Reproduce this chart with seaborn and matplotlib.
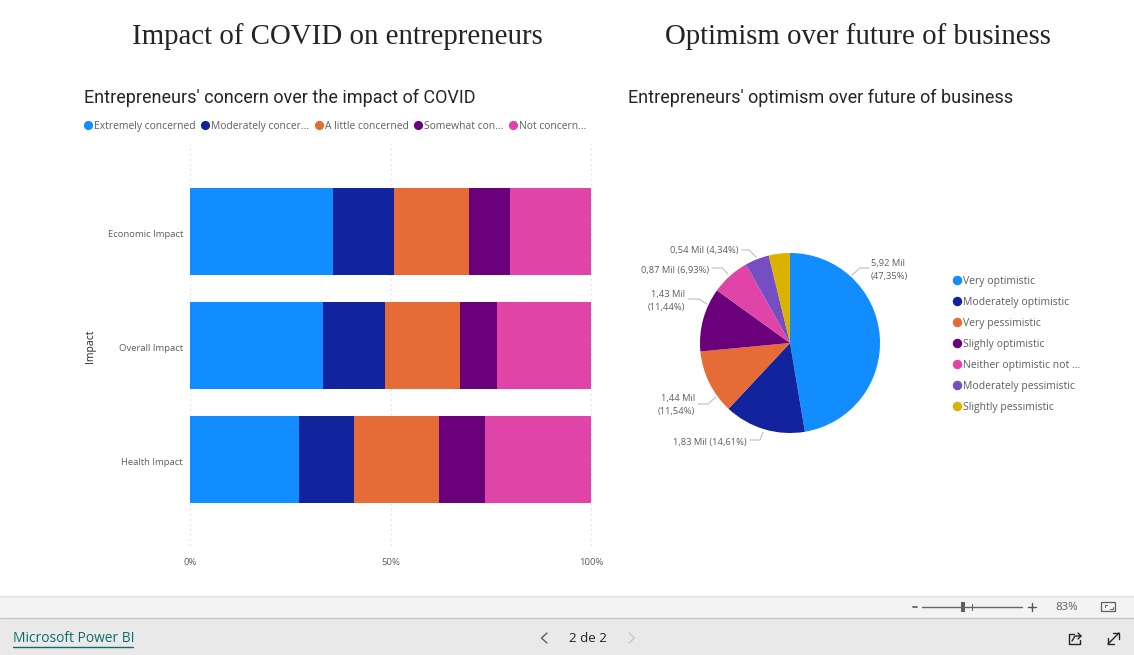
"""Power BI page: impact of COVID and optimism of entrepreneurs"""

from matplotlib import pyplot as plt
from matplotlib.lines import Line2D
from matplotlib.patches import Rectangle, FancyBboxPatch
from matplotlib.transforms import ScaledTranslation
import numpy as np
import pandas as pd
import seaborn as sns

W, H = 1134, 655

impacts = ['Economic Impact', 'Overall Impact', 'Health Impact']
concern_levels = ['Extremely concerned', 'Moderately concer...', 'A little concerned',
                  'Somewhat con...', 'Not concern...']
extremely = [35.7, 33.2, 27.2]
moderately = [15.2, 15.5, 13.7]
a_little = [18.7, 18.7, 21.2]
somewhat = [10.2, 9.2, 11.4]
not_concerned = [20.2, 23.4, 26.5]

optimism_levels = ['Very optimistic', 'Moderately optimistic', 'Very pessimistic',
                   'Slighly optimistic', 'Neither optimistic not ...',
                   'Moderately pessimistic', 'Slightly pessimistic']
optimism_share = [47.35, 14.61, 11.54, 11.44, 6.93, 4.34, 3.79]

colors = ['#118DFF', '#12239E', '#E66C37', '#6B007B', '#E044A7', '#744EC2', '#D9B300']

TEXT_GREY = '#605E5C'
BODY_FONT = 'Open Sans'
HEAD_FONT = 'Roboto'
TITLE_FONT = 'Liberation Serif'

sns.set_theme(style='white')
plt.rcParams['font.family'] = [BODY_FONT, 'DejaVu Sans']

fig = plt.figure(figsize=(W / 100, H / 100), dpi=100, facecolor='white')


def px_axes(x0, y0, x1, y1):
    """Ejes a partir de una caja en píxeles (origen arriba a la izquierda)"""
    return fig.add_axes([x0 / W, 1 - y1 / H, (x1 - x0) / W, (y1 - y0) / H])


# Barras apiladas
ax = px_axes(190, 144, 591, 545)
tabla = pd.DataFrame({
    'Impact': impacts,
    concern_levels[0]: extremely,
    concern_levels[1]: moderately,
    concern_levels[2]: a_little,
    concern_levels[3]: somewhat,
    concern_levels[4]: not_concerned,
})
acumulado = np.zeros(len(impacts))
for nivel, color in zip(concern_levels, colors):
    sns.barplot(
        data=tabla, y='Impact', x=nivel, order=impacts, color=color,
        width=0.763, left=acumulado, saturation=1, linewidth=0,
        ax=ax
    )
    acumulado = acumulado + tabla[nivel].to_numpy()

ax.set_xlim(0, 100)
ax.set_ylim(2.75, -0.77)
ax.set_xticks([0, 50, 100], ['0%', '50%', '100%'])
ax.set_xlabel('')
ax.set_ylabel('Impact', fontsize=7.5, color='#252423')
ax.yaxis.set_label_coords(-0.234, 0.495)
ax.tick_params(axis='both', length=0, labelsize=6.8, labelcolor=TEXT_GREY)
ax.tick_params(axis='x', pad=9.5)
ax.tick_params(axis='y', pad=5)
# Las etiquetas van 1,5 px por debajo del centro de la barra
bajada = ScaledTranslation(0, -1.5 / 100, fig.dpi_scale_trans)
for etiqueta in ax.get_yticklabels():
    etiqueta.set_transform(etiqueta.get_transform() + bajada)
ax.grid(axis='x', color='#DADADA', linestyle=(0, (1, 3)), linewidth=0.9, clip_on=False)
ax.set_axisbelow(True)
sns.despine(ax=ax, left=True, bottom=True)

puntos = [Line2D([], [], marker='o', linestyle='', color=c, markersize=5.6) for c in colors[:5]]
fig.legend(
    puntos, concern_levels, loc='center left', bbox_to_anchor=(84 / W, 1 - 126.5 / H), ncols=5,
    frameon=False, fontsize=7.4, labelcolor=TEXT_GREY, handlelength=0.8, handletextpad=0.18,
    columnspacing=0.53, borderpad=0, borderaxespad=0
)

# Tarta
ax_pie = px_axes(690, 243, 890, 443)
wedges, _ = ax_pie.pie(
    optimism_share, colors=colors, startangle=90, counterclock=False,
    radius=1.0, wedgeprops={'linewidth': 0}
)
ax_pie.set_xlim(-1.111, 1.111)
ax_pie.set_ylim(-1.111, 1.111)

puntos_pie = [Line2D([], [], marker='o', linestyle='', color=c, markersize=5.8) for c in colors]
fig.legend(
    puntos_pie, optimism_levels, loc='upper left', bbox_to_anchor=(953 / W, 1 - 276 / H),
    frameon=False, fontsize=7.5, labelcolor=TEXT_GREY, handlelength=0.8, handletextpad=0.18,
    labelspacing=0.956, borderpad=0, borderaxespad=0
)

# Capa en píxeles para textos y barra de Power BI
ov = fig.add_axes([0, 0, 1, 1], zorder=5)
ov.set_xlim(0, W)
ov.set_ylim(H, 0)
ov.axis('off')
ov.patch.set_alpha(0)

ov.text(337.5, 36.5, 'Impact of COVID on entrepreneurs', family=TITLE_FONT, fontsize=20.8,
        color='#252423', ha='center', va='center')
ov.text(857.5, 36.5, 'Optimism over future of business', family=TITLE_FONT, fontsize=20.8,
        color='#252423', ha='center', va='center')
ov.text(84, 98, "Entrepreneurs' concern over the impact of COVID", family=HEAD_FONT,
        fontsize=12.95, color='#252423', va='center')
ov.text(628, 98, "Entrepreneurs' optimism over future of business", family=HEAD_FONT,
        fontsize=12.95, color='#252423', va='center')

# Etiquetas de la tarta: texto, anclaje y línea guía
pie_labels = [
    ('5,92 Mil\n(47,35%)', 871, 270, 'left', [(852, 275), (860, 268), (869, 268)]),
    ('1,83 Mil (14,61%)', 747, 442, 'right', [(750, 440), (760, 440), (763, 432)]),
    ('1,44 Mil\n(11,54%)', 695, 405, 'right', [(698, 404), (708, 404), (716, 397)]),
    ('1,43 Mil\n(11,44%)', 685, 301, 'right', [(688, 299), (699, 299), (707, 304)]),
    ('0,87 Mil (6,93%)', 709, 270, 'right', [(712, 268), (722, 268), (728, 274)]),
    ('0,54 Mil (4,34%)', 739, 251, 'right', [(742, 250), (749, 250), (756, 257)]),
]
for texto, x, y, ha, guia in pie_labels:
    ov.text(x, y, texto, fontsize=6.75, color=TEXT_GREY, ha=ha, va='center', linespacing=1.45)
    xs, ys = zip(*guia)
    ov.plot(xs, ys, color='#BDBDBD', linewidth=0.8)

# Barra inferior
ov.add_patch(Rectangle((0, 596), W, 22, color='#F3F3F3', linewidth=0))
ov.add_patch(Rectangle((0, 618), W, 37, color='#E9E9E9', linewidth=0))
ov.plot([0, W], [595.5, 595.5], color='#E0E0E0', linewidth=1)
ov.plot([0, W], [618, 618], color='#C8C8C8', linewidth=1)

ov.text(13, 639, 'Microsoft Power BI', fontsize=9.9, color='#0F6B6B', va='center')
ov.plot([13, 133], [646.5, 646.5], color='#0F6B6B', linewidth=1)
ov.text(588, 638, '2 de 2', fontsize=9.6, color='#252423', ha='center', va='center')
ov.plot([547, 541.5, 547], [633, 638, 643], color='#605E5C', linewidth=1)
ov.plot([629, 634.5, 629], [633, 638, 643], color='#C8C8C8', linewidth=1)

# Zoom
ov.plot([913, 917], [607, 607], color='#555555', linewidth=1.2)
ov.plot([922, 1022], [607, 607], color='#666666', linewidth=1)
ov.add_patch(Rectangle((961, 602), 4, 10, color='#605E5C', linewidth=0))
ov.plot([972, 972], [604, 610], color='#666666', linewidth=0.8)
ov.plot([1028, 1036], [607, 607], color='#555555', linewidth=1)
ov.plot([1032, 1032], [603, 611], color='#555555', linewidth=1)
ov.text(1067, 607, '83%', fontsize=8.2, color=TEXT_GREY, ha='center', va='center')
ov.add_patch(FancyBboxPatch((1102, 603), 13, 8, boxstyle='round,pad=0.5', fill=False,
                            edgecolor='#605E5C', linewidth=0.9))
ov.plot([1104.5, 1104.5, 1107], [607, 605, 605], color='#605E5C', linewidth=0.7)
ov.plot([1110, 1112.5, 1112.5], [609, 609, 607], color='#605E5C', linewidth=0.7)

# Iconos de compartir y expandir
ov.plot([1074, 1069, 1069, 1080, 1080], [634, 634, 644, 644, 640], color='#252423', linewidth=1)
ov.plot([1072, 1075, 1081], [641, 636, 636], color='#252423', linewidth=1)
ov.plot([1078, 1081, 1078], [633, 636, 639], color='#252423', linewidth=1)
ov.plot([1108, 1119], [644, 633], color='#252423', linewidth=1)
ov.plot([1113, 1119, 1119], [633, 633, 639], color='#252423', linewidth=1)
ov.plot([1108, 1108, 1114], [638, 644, 644], color='#252423', linewidth=1)

fig.savefig('out.png', dpi=100)
